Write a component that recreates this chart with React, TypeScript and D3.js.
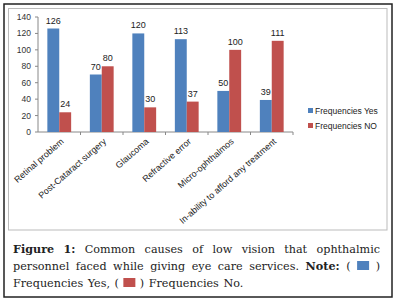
import React, { useEffect, useRef } from "react";
import * as d3 from "d3";

const categories = [
  "Retinal problem",
  "Post-Cataract surgery",
  "Glaucoma",
  "Refractive error",
  "Micro-ophthalmos",
  "In-ability to afford any treatment",
];
const seriesNames = ["Frequencies Yes", "Frequencies NO"];
const yesValues = [126, 70, 120, 113, 50, 39];
const noValues = [24, 80, 30, 37, 100, 111];
const yTicks = [0, 20, 40, 60, 80, 100, 120, 140];
const colors = ["#4F81BD", "#C0504D"];

const captionLines: { text: string; bold?: boolean }[][] = [
  [{ text: "Figure 1:", bold: true }, { text: "Common causes of low vision that ophthalmic" }],
  [{ text: "personnel faced while giving eye care services." }, { text: "Note:", bold: true }, { text: "(" }, { text: "■B" }, { text: ")" }],
  [{ text: "Frequencies Yes, (" }, { text: "■R" }, { text: ") Frequencies No." }],
];

export default function App() {
  const capRef = useRef<SVGGElement>(null);
  const x0 = d3.scaleBand().domain(categories).range([38, 293]).paddingInner(0.44).paddingOuter(0.22);
  const x1 = d3.scaleBand().domain(seriesNames).range([0, x0.bandwidth()]);
  const y = d3.scaleLinear().domain([0, 140]).range([132, 17]);
  const font = "'Liberation Sans', Arial, sans-serif";

  useEffect(() => {
    const g = d3.select(capRef.current);
    g.selectAll("*").remove();
    const left = 13, right = 380;
    const lineY = [253, 270, 287];
    captionLines.forEach((line, li) => {
      const words: { text: string; bold: boolean; square?: string }[] = [];
      line.forEach((seg) => {
        if (seg.text === "■B" || seg.text === "■R") {
          words.push({ text: "", bold: false, square: seg.text === "■B" ? colors[0] : colors[1] });
        } else {
          seg.text.split(" ").forEach((w) => words.push({ text: w, bold: !!seg.bold }));
        }
      });
      const widths: number[] = [];
      const nodes: any[] = [];
      words.forEach((w) => {
        if (w.square) {
          widths.push(12);
          nodes.push(null);
        } else {
          const t = g.append("text")
            .attr("y", lineY[li])
            .attr("font-family", "'DejaVu Serif', serif")
            .attr("font-size", 11.2)
            .attr("font-weight", w.bold ? "bold" : "normal")
            .attr("fill", "#222")
            .text(w.text);
          nodes.push(t);
          widths.push((t.node() as SVGTextElement).getComputedTextLength());
        }
      });
      const total = d3.sum(widths);
      const last = li === captionLines.length - 1;
      const gap = last ? 4.5 : (right - left - total) / (words.length - 1);
      let cx = left;
      words.forEach((w, i) => {
        if (w.square) {
          g.append("rect").attr("x", cx).attr("y", lineY[li] - 9).attr("width", 12).attr("height", 9).attr("fill", w.square);
        } else {
          nodes[i].attr("x", cx);
        }
        cx += widths[i] + gap;
      });
    });
  }, []);

  return (
    <svg width={397} height={304} style={{ position: "absolute", left: 0, top: 0, background: "#fff" }}>
      <rect x={4} y={4} width={388} height={293} fill="#fff" stroke="#222" strokeWidth={1.5} />
      <rect x={8.5} y={8.5} width={378.5} height={221.5} fill="#fff" stroke="#bbb" strokeWidth={1} />
      <line x1={38} x2={38} y1={y(0)} y2={y(140)} stroke="#888" />
      {yTicks.map((t) => (
        <g key={t}>
          <line x1={35} x2={38} y1={y(t)} y2={y(t)} stroke="#888" />
          <text x={31} y={y(t)} dy="0.35em" textAnchor="end" fontFamily={font} fontSize={8.5} fill="#333">{t}</text>
        </g>
      ))}
      <line x1={38} x2={293} y1={y(0)} y2={y(0)} stroke="#888" />
      {categories.map((c, i) => {
        const step = (293 - 38) / categories.length;
        return <line key={"tk" + i} x1={38 + step * (i + 1)} x2={38 + step * (i + 1)} y1={y(0)} y2={y(0) + 3} stroke="#888" />;
      })}
      {categories.map((c, i) => {
        const vals = [yesValues[i], noValues[i]];
        return (
          <g key={c} transform={`translate(${x0(c)},0)`}>
            {vals.map((v, j) => (
              <g key={j}>
                <rect x={x1(seriesNames[j])} y={y(v)} width={x1.bandwidth()} height={y(0) - y(v)} fill={colors[j]} />
                <text x={(x1(seriesNames[j]) as number) + x1.bandwidth() / 2} y={y(v) - 5} textAnchor="middle" fontFamily={font} fontSize={9} fill="#222">{v}</text>
              </g>
            ))}
          </g>
        );
      })}
      {categories.map((c) => {
        const cx = (x0(c) as number) + x0.bandwidth() / 2 + 3;
        return (
          <text key={"l" + c} transform={`translate(${cx},${y(0) + 8}) rotate(-41)`} textAnchor="end" dy="0.35em" fontFamily={font} fontSize={8.9} fill="#222">{c}</text>
        );
      })}
      {seriesNames.map((s, i) => (
        <g key={s} transform={`translate(308,${111 + i * 15})`}>
          <rect x={0} y={-3} width={5} height={5} fill={colors[i]} />
          <text x={7} y={0} dy="0.35em" fontFamily={font} fontSize={8.5} fill="#222">{s}</text>
        </g>
      ))}
      <g ref={capRef} />
    </svg>
  );
}
